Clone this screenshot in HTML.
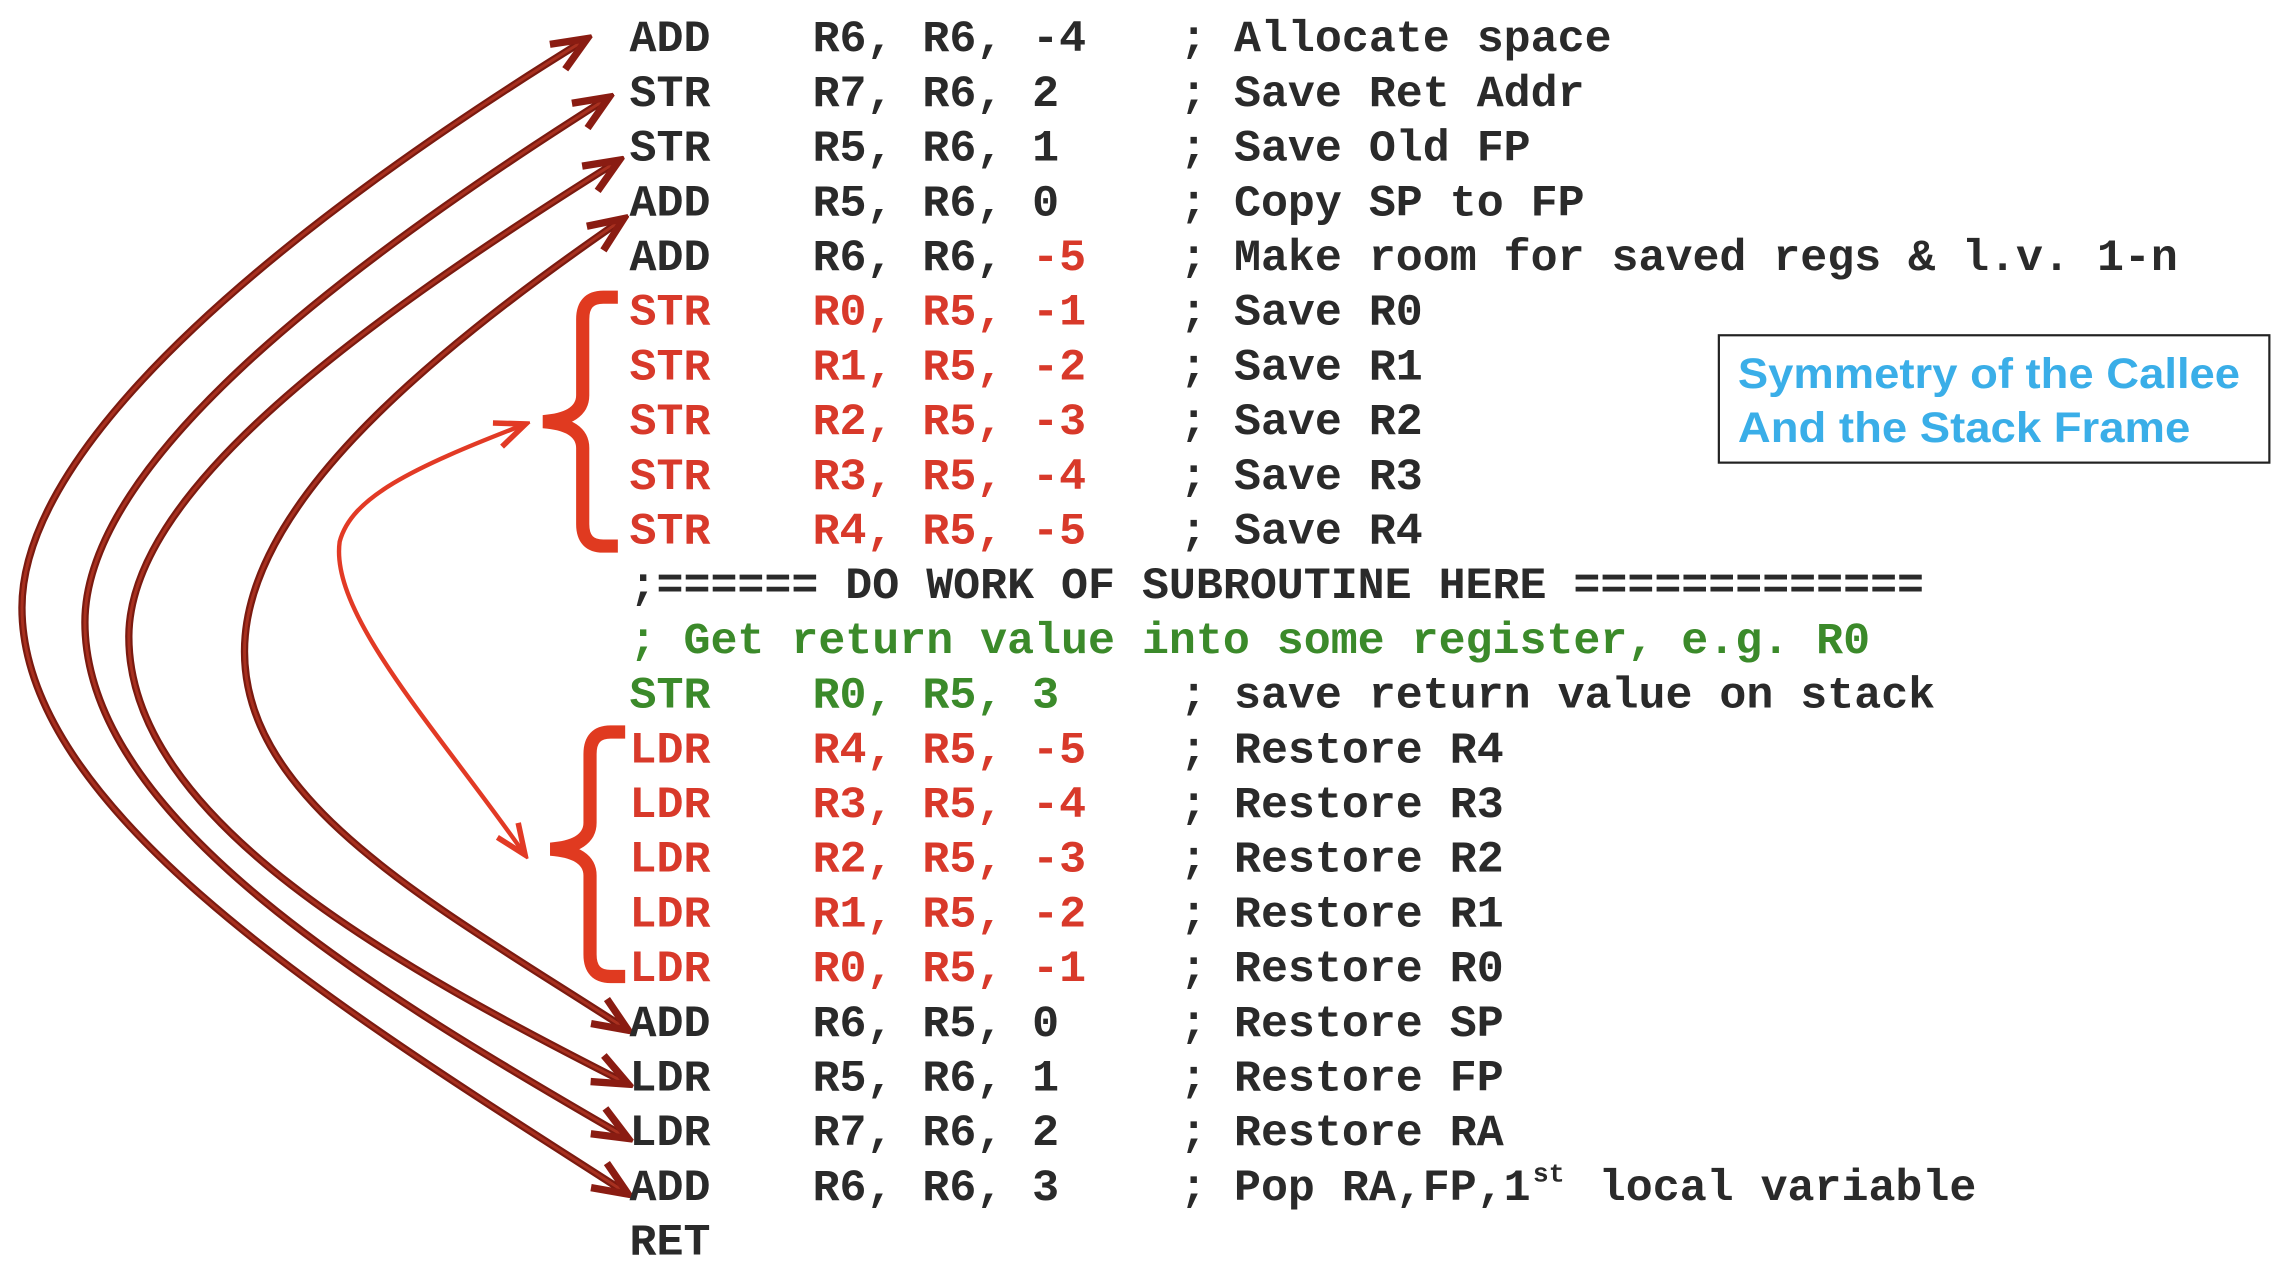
<!DOCTYPE html>
<html><head><meta charset="utf-8"><style>
html,body{margin:0;padding:0;background:#fff;}
svg{display:block;}
text{font-family:"Liberation Mono","DejaVu Sans Mono",monospace;font-size:30.7px;font-weight:bold;white-space:pre;}
.d{fill:#2a2a2a;}.r{fill:#d8392a;}.g{fill:#3b8a2a;}
</style></head><body>
<svg width="2284" height="1262" viewBox="0 0 1560 862" preserveAspectRatio="none" xmlns="http://www.w3.org/2000/svg">
<defs>
<marker id="ah" markerUnits="userSpaceOnUse" markerWidth="30" markerHeight="30" refX="20" refY="10" orient="auto-start-reverse" viewBox="0 0 24 20">
<path d="M2,2 L21,10 L2,18" fill="none" stroke="#8a1c12" stroke-width="4"/>
</marker>
<marker id="ahr" markerUnits="userSpaceOnUse" markerWidth="26" markerHeight="26" refX="20" refY="10" orient="auto-start-reverse" viewBox="0 0 24 20">
<path d="M2,2 L21,10 L2,18" fill="none" stroke="#e23a25" stroke-width="3.5"/>
</marker>
</defs>
<g fill="none" stroke-linecap="round">
<g stroke="#7a1a10" stroke-width="5">
<path d="M400,27 C 200,150 15,300 15,415 C 15,560 250,700 428,815"/>
<path d="M415,67 C 220,190 58,320 58,425 C 58,560 260,680 428,777"/>
<path d="M422,110 C 230,230 88,340 88,435 C 88,560 270,660 428,740"/>
<path d="M425,150 C 280,250 167,350 167,445 C 167,550 300,620 428,703"/>
</g>
<g stroke="#a8301f" stroke-width="2" marker-start="url(#ah)" marker-end="url(#ah)">
<path d="M400,27 C 200,150 15,300 15,415 C 15,560 250,700 428,815"/>
<path d="M415,67 C 220,190 58,320 58,425 C 58,560 260,680 428,777"/>
<path d="M422,110 C 230,230 88,340 88,435 C 88,560 270,660 428,740"/>
<path d="M425,150 C 280,250 167,350 167,445 C 167,550 300,620 428,703"/>
</g>
<path d="M358,290 C 280,320 240,340 232,370 C 225,420 300,500 358,583" stroke="#e23a25" stroke-width="3" marker-start="url(#ahr)" marker-end="url(#ahr)"/>
<path d="M422,203 L412,203 Q398,203 398,218 L398,270 Q398,286 371,288 Q398,290 398,306 L398,358 Q398,373 412,373 L422,373" stroke="#e03a20" stroke-width="9" stroke-linecap="butt"/>
<path d="M427,500 L417,500 Q403,500 403,515 L403,562 Q403,578 376,580 Q403,582 403,598 L403,652 Q403,667 417,667 L427,667" stroke="#e03a20" stroke-width="9" stroke-linecap="butt"/>
</g>

<text y="35" class="d"><tspan x="430">ADD</tspan><tspan x="555">R6,</tspan><tspan x="630">R6,</tspan><tspan x="705">-4</tspan><tspan x="806">; Allocate space</tspan></text>
<text y="72.4" class="d"><tspan x="430">STR</tspan><tspan x="555">R7,</tspan><tspan x="630">R6,</tspan><tspan x="705">2</tspan><tspan x="806">; Save Ret Addr</tspan></text>
<text y="109.7" class="d"><tspan x="430">STR</tspan><tspan x="555">R5,</tspan><tspan x="630">R6,</tspan><tspan x="705">1</tspan><tspan x="806">; Save Old FP</tspan></text>
<text y="147.1" class="d"><tspan x="430">ADD</tspan><tspan x="555">R5,</tspan><tspan x="630">R6,</tspan><tspan x="705">0</tspan><tspan x="806">; Copy SP to FP</tspan></text>
<text y="184.4" class="d"><tspan x="430">ADD</tspan><tspan x="555">R6,</tspan><tspan x="630">R6,</tspan><tspan x="705" class="r">-5</tspan><tspan x="806">; Make room for saved regs &amp; l.v. 1-n</tspan></text>
<text y="221.8" class="r"><tspan x="430">STR</tspan><tspan x="555">R0,</tspan><tspan x="630">R5,</tspan><tspan x="705">-1</tspan><tspan x="806" class="d">; Save R0</tspan></text>
<text y="259.2" class="r"><tspan x="430">STR</tspan><tspan x="555">R1,</tspan><tspan x="630">R5,</tspan><tspan x="705">-2</tspan><tspan x="806" class="d">; Save R1</tspan></text>
<text y="296.5" class="r"><tspan x="430">STR</tspan><tspan x="555">R2,</tspan><tspan x="630">R5,</tspan><tspan x="705">-3</tspan><tspan x="806" class="d">; Save R2</tspan></text>
<text y="333.9" class="r"><tspan x="430">STR</tspan><tspan x="555">R3,</tspan><tspan x="630">R5,</tspan><tspan x="705">-4</tspan><tspan x="806" class="d">; Save R3</tspan></text>
<text y="371.2" class="r"><tspan x="430">STR</tspan><tspan x="555">R4,</tspan><tspan x="630">R5,</tspan><tspan x="705">-5</tspan><tspan x="806" class="d">; Save R4</tspan></text>
<text x="430" y="408.6" class="d">;====== DO WORK OF SUBROUTINE HERE =============</text>
<text x="430" y="446" class="g">; Get return value into some register, e.g. R0</text>
<text y="483.3" class="g"><tspan x="430">STR</tspan><tspan x="555">R0,</tspan><tspan x="630">R5,</tspan><tspan x="705">3</tspan><tspan x="806" class="d">; save return value on stack</tspan></text>
<text y="520.7" class="r"><tspan x="430">LDR</tspan><tspan x="555">R4,</tspan><tspan x="630">R5,</tspan><tspan x="705">-5</tspan><tspan x="806" class="d">; Restore R4</tspan></text>
<text y="558" class="r"><tspan x="430">LDR</tspan><tspan x="555">R3,</tspan><tspan x="630">R5,</tspan><tspan x="705">-4</tspan><tspan x="806" class="d">; Restore R3</tspan></text>
<text y="595.4" class="r"><tspan x="430">LDR</tspan><tspan x="555">R2,</tspan><tspan x="630">R5,</tspan><tspan x="705">-3</tspan><tspan x="806" class="d">; Restore R2</tspan></text>
<text y="632.8" class="r"><tspan x="430">LDR</tspan><tspan x="555">R1,</tspan><tspan x="630">R5,</tspan><tspan x="705">-2</tspan><tspan x="806" class="d">; Restore R1</tspan></text>
<text y="670.1" class="r"><tspan x="430">LDR</tspan><tspan x="555">R0,</tspan><tspan x="630">R5,</tspan><tspan x="705">-1</tspan><tspan x="806" class="d">; Restore R0</tspan></text>
<text y="707.5" class="d"><tspan x="430">ADD</tspan><tspan x="555">R6,</tspan><tspan x="630">R5,</tspan><tspan x="705">0</tspan><tspan x="806">; Restore SP</tspan></text>
<text y="744.8" class="d"><tspan x="430">LDR</tspan><tspan x="555">R5,</tspan><tspan x="630">R6,</tspan><tspan x="705">1</tspan><tspan x="806">; Restore FP</tspan></text>
<text y="782.2" class="d"><tspan x="430">LDR</tspan><tspan x="555">R7,</tspan><tspan x="630">R6,</tspan><tspan x="705">2</tspan><tspan x="806">; Restore RA</tspan></text>
<text y="819.6" class="d"><tspan x="430">ADD</tspan><tspan x="555">R6,</tspan><tspan x="630">R6,</tspan><tspan x="705">3</tspan><tspan x="806">; Pop RA,FP,1</tspan></text>
<text x="1047" y="807" class="d" style="font-size:18px">st</text>
<text x="1092" y="819.6" class="d">local variable</text>
<text x="430" y="856.9" class="d">RET</text>

<rect x="1174" y="229" width="376" height="87" fill="none" stroke="#222" stroke-width="1.5"/>
<text x="1187" y="265" textLength="343" lengthAdjust="spacingAndGlyphs" style="font-family:'Liberation Sans',Arial,sans-serif;font-weight:bold;font-size:29px;fill:#3aaee8">Symmetry of the Callee</text>
<text x="1187" y="302" textLength="309" lengthAdjust="spacingAndGlyphs" style="font-family:'Liberation Sans',Arial,sans-serif;font-weight:bold;font-size:29px;fill:#3aaee8">And the Stack Frame</text>
</svg>
</body></html>
